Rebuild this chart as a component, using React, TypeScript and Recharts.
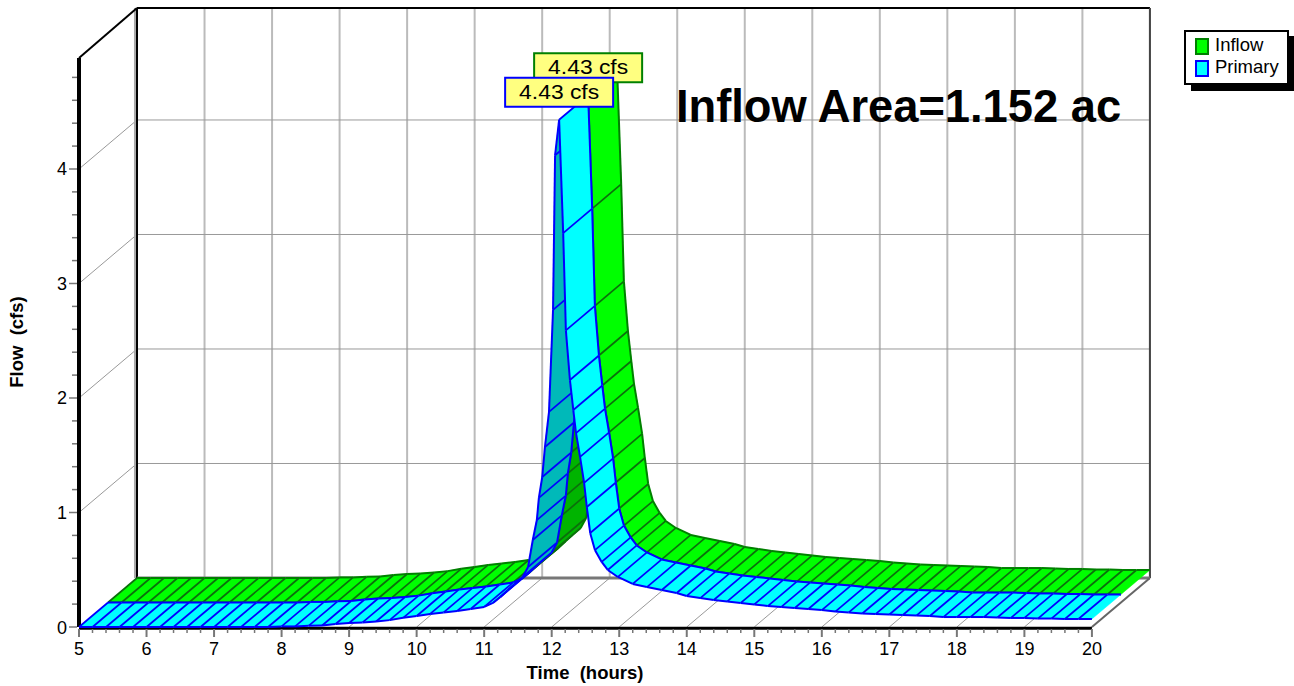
import { Line, LineChart, ReferenceDot, ReferenceLine, XAxis, YAxis } from "recharts";

const hours = [
  5, 5.2, 5.4, 5.6, 5.8, 6, 6.2, 6.4, 6.6, 6.8, 7, 7.2, 7.4, 7.6, 7.8, 8, 8.2, 8.4, 8.6, 8.8, 9, 9.2, 9.4, 9.6, 9.8,
  10, 10.2, 10.4, 10.6, 10.8, 11, 11.13, 11.24, 11.35, 11.45, 11.57, 11.65, 11.72, 11.78, 11.81, 11.86, 11.9, 11.96,
  12.02, 12.05, 12.11, 12.17, 12.21, 12.27, 12.32, 12.36, 12.42, 12.48, 12.52, 12.57, 12.64, 12.74, 12.83, 12.98,
  13.2, 13.41, 13.63, 13.85, 14, 14.2, 14.4, 14.6, 14.8, 15, 15.2, 15.4, 15.6, 15.8, 16, 16.2, 16.4, 16.6, 16.8, 17,
  17.2, 17.4, 17.6, 17.8, 18, 18.2, 18.4, 18.6, 18.8, 19, 19.2, 19.4, 19.6, 19.8, 20,
];

const inflowCfs = [
  0, 0, 0, 0, 0, 0, 0, 0, 0, 0, 0, 0, 0, 0, 0, 0.005, 0.005, 0.01, 0.013, 0.026, 0.035, 0.04, 0.048, 0.06, 0.08,
  0.096, 0.114, 0.127, 0.14, 0.157, 0.175, 0.21, 0.262, 0.323, 0.376, 0.437, 0.524, 0.76, 0.934, 1.127, 1.31, 1.572,
  1.878, 2.77, 4.12, 4.43, 3.44, 2.59, 2.157, 1.895, 1.694, 1.485, 1.258, 1.048, 0.821, 0.672, 0.568, 0.498, 0.437,
  0.376, 0.349, 0.323, 0.297, 0.271, 0.253, 0.236, 0.223, 0.21, 0.197, 0.183, 0.175, 0.166, 0.157, 0.148, 0.135,
  0.127, 0.118, 0.114, 0.109, 0.105, 0.1, 0.096, 0.087, 0.087, 0.087, 0.087, 0.083, 0.079, 0.079, 0.074, 0.074, 0.07,
  0.07, 0.07,
];

const primaryCfs = [...inflowCfs];

const xTicks = [
  5, 5.2, 5.4, 5.6, 5.8, 6, 6.2, 6.4, 6.6, 6.8, 7, 7.2, 7.4, 7.6, 7.8, 8, 8.2, 8.4, 8.6, 8.8, 9, 9.2, 9.4, 9.6, 9.8,
  10, 10.2, 10.4, 10.6, 10.8, 11, 11.2, 11.4, 11.6, 11.8, 12, 12.2, 12.4, 12.6, 12.8, 13, 13.2, 13.4, 13.6, 13.8, 14,
  14.2, 14.4, 14.6, 14.8, 15, 15.2, 15.4, 15.6, 15.8, 16, 16.2, 16.4, 16.6, 16.8, 17, 17.2, 17.4, 17.6, 17.8, 18, 18.2,
  18.4, 18.6, 18.8, 19, 19.2, 19.4, 19.6, 19.8, 20,
];
const yTicks = [
  0, 0.2, 0.4, 0.6, 0.8, 1, 1.2, 1.4, 1.6, 1.8, 2, 2.2, 2.4, 2.6, 2.8, 3, 3.2, 3.4, 3.6, 3.8, 4, 4.2, 4.4, 4.6, 4.8,
];
const hourLines = [6, 7, 8, 9, 10, 11, 12, 13, 14, 15, 16, 17, 18, 19, 20];
const flowLines = [1, 2, 3, 4];

const PEAK_HOUR = 12.11;
const PEAK_CFS = 4.43;
const AXIS_Y_TOP = 4.97;

// the picture's depth direction, in data units
const DEPTH_T = 0.859;
const DEPTH_Q = 0.428;

const BACK_T = 5 + DEPTH_T;
const END_T = 20 + DEPTH_T;
const TOP_Q = 5.406;

const FONT = "'Liberation Sans', Arial, sans-serif";

function ribbonRows(values: number[], zFront: number, zBack: number) {
  const front = hours.map((t, i) => ({ t: t + zFront * DEPTH_T, q: values[i] + zFront * DEPTH_Q }));
  const back = hours.map((t, i) => ({ t: t + zBack * DEPTH_T, q: values[i] + zBack * DEPTH_Q }));
  return [...front, ...back.reverse()];
}

function Ribbon({ points, fill, dark, edge, hatch }: any) {
  const n = points.length / 2;
  const parts = [];
  for (let i = 0; i < n - 1; i++) {
    const a = points[i];
    const b = points[i + 1];
    const c = points[2 * n - 2 - i];
    const d = points[2 * n - 1 - i];
    // underside of the ribbon: the edge climbs faster than the depth direction
    const cross = (b.x - a.x) * (d.y - a.y) - (b.y - a.y) * (d.x - a.x);
    const color = cross > 0 ? dark : fill;
    parts.push(
      <g key={i}>
        <path
          d={`M${a.x},${a.y}L${b.x},${b.y}L${c.x},${c.y}L${d.x},${d.y}Z`}
          fill={color}
          stroke={color}
          strokeWidth={0.5}
        />
        <line x1={a.x} y1={a.y} x2={d.x} y2={d.y} stroke={hatch} strokeWidth={1.7} />
        <line x1={a.x} y1={a.y} x2={b.x} y2={b.y} stroke={edge} strokeWidth={2} />
        <line x1={d.x} y1={d.y} x2={c.x} y2={c.y} stroke={edge} strokeWidth={2} />
      </g>,
    );
  }
  return <g>{parts}</g>;
}

function ribbonDot(colors: { fill: string; dark: string; edge: string; hatch: string }) {
  return (props: any) =>
    props.index === 0 ? <Ribbon key="ribbon" points={props.points} {...colors} /> : <g key={props.index} />;
}

function XTick({ x, payload }: any) {
  const major = Number.isInteger(payload.value);
  return (
    <g>
      <line x1={x} y1={629} x2={x} y2={major ? 637 : 633} stroke="#777" strokeWidth={major ? 2 : 1.5} />
      {major && (
        <text x={x} y={655} textAnchor="middle" fontSize={18} fontFamily={FONT} fill="#000">
          {payload.value}
        </text>
      )}
    </g>
  );
}

function YTick({ y, payload }: any) {
  const major = Number.isInteger(payload.value);
  return (
    <g>
      <line x1={major ? 69 : 72} y1={y} x2={77} y2={y} stroke="#777" strokeWidth={1.5} />
      {major && (
        <text x={67} y={y + 6.5} textAnchor="end" fontSize={18} fontFamily={FONT} fill="#000">
          {payload.value}
        </text>
      )}
    </g>
  );
}

function Callout({ cx, cy, color }: any) {
  return (
    <g>
      <rect x={cx - 54} y={cy - 42} width={108} height={29} fill="#ffff80" stroke={color} strokeWidth={2} />
      <text
        x={cx}
        y={cy - 21}
        textAnchor="middle"
        fontSize={20}
        fontFamily={FONT}
        fill="#000"
        textLength={80}
        lengthAdjust="spacingAndGlyphs"
      >
        4.43 cfs
      </text>
    </g>
  );
}

function AreaNote({ cx, cy }: any) {
  return (
    <text x={cx} y={cy} fontSize={45.3} fontWeight="bold" fontFamily={FONT} fill="#000">
      Inflow Area=1.152 ac
    </text>
  );
}

function seg(key: string, from: number[], to: number[], stroke: string, strokeWidth: number) {
  return (
    <ReferenceLine
      key={key}
      segment={[
        { x: from[0], y: from[1] },
        { x: to[0], y: to[1] },
      ]}
      stroke={stroke}
      strokeWidth={strokeWidth}
      ifOverflow="visible"
    />
  );
}

function LegendBox() {
  const rows = [
    { name: "Inflow", fill: "#00ff00", edge: "#008000", top: 7 },
    { name: "Primary", fill: "#00ffff", edge: "#0000ff", top: 29 },
  ];
  return (
    <div
      style={{
        position: "absolute",
        left: 1184,
        top: 30,
        width: 101,
        height: 51,
        background: "#fff",
        border: "2px solid #000",
        boxShadow: "7px 6px 0 #000",
        fontFamily: FONT,
        fontSize: 18.5,
      }}
    >
      {rows.map((r) => (
        <div key={r.name} style={{ position: "absolute", left: 0, top: r.top, height: 16 }}>
          <span
            style={{
              position: "absolute",
              left: 9,
              top: -1,
              width: 10,
              height: 13,
              background: r.fill,
              border: `2px solid ${r.edge}`,
            }}
          />
          <span style={{ position: "absolute", left: 29, top: -4, lineHeight: "20px" }}>{r.name}</span>
        </div>
      ))}
    </div>
  );
}

export default function App() {
  return (
    <div style={{ position: "absolute", left: 0, top: 0, width: 1294, height: 686, background: "#fff" }}>
      <LineChart width={1294} height={686} margin={{ top: 8, right: 144, bottom: 0, left: 0 }}>
        <XAxis
          dataKey="t"
          type="number"
          domain={[5, 20.86]}
          ticks={xTicks}
          interval={0}
          height={59}
          axisLine={false}
          tickLine={false}
          tick={<XTick />}
        />
        <YAxis
          dataKey="q"
          type="number"
          domain={[0, TOP_Q]}
          ticks={yTicks}
          interval={0}
          width={79}
          axisLine={false}
          tickLine={false}
          tick={<YTick />}
        />

        {hourLines.map((h) => seg(`v${h}`, [h + DEPTH_T, DEPTH_Q], [h + DEPTH_T, TOP_Q], "#bbb", 2))}
        {flowLines.map((f) => seg(`h${f}`, [BACK_T, f + DEPTH_Q], [END_T, f + DEPTH_Q], "#999", 1))}
        {flowLines.map((f) => seg(`w${f}`, [5, f], [BACK_T, f + DEPTH_Q], "#999", 1))}
        {hourLines.map((h) => seg(`f${h}`, [h, 0], [h + DEPTH_T, DEPTH_Q], "#999", 1))}
        {seg("wallGray", [BACK_T - 0.03, DEPTH_Q], [BACK_T - 0.03, TOP_Q], "#aaa", 2)}
        {seg("wallBlack", [BACK_T, DEPTH_Q], [BACK_T, TOP_Q], "#000", 2)}
        {seg("top", [BACK_T, TOP_Q], [END_T, TOP_Q], "#000", 2)}
        {seg("right", [END_T, DEPTH_Q], [END_T, TOP_Q], "#444", 2)}
        {seg("floorBack", [BACK_T, DEPTH_Q], [END_T, DEPTH_Q], "#777", 3)}
        {seg("floorRight", [20, 0], [END_T, DEPTH_Q], "#666", 2)}
        {seg("floorLeft", [5, AXIS_Y_TOP], [BACK_T, TOP_Q], "#000", 2)}
        {seg("yAxis", [5, 0], [5, AXIS_Y_TOP], "#000", 4)}
        {seg("xAxis", [5, -0.01], [20, -0.01], "#000", 3)}

        <Line
          data={ribbonRows(inflowCfs, 0.5, 1)}
          dataKey="q"
          name="Inflow"
          stroke="none"
          isAnimationActive={false}
          activeDot={false}
          dot={ribbonDot({ fill: "#00ff00", dark: "#00b400", edge: "#008000", hatch: "#0c6f0c" })}
        />
        <Line
          data={ribbonRows(primaryCfs, 0, 0.5)}
          dataKey="q"
          name="Primary"
          stroke="none"
          isAnimationActive={false}
          activeDot={false}
          dot={ribbonDot({ fill: "#00ffff", dark: "#00b9b9", edge: "#0000ff", hatch: "#0000ff" })}
        />

        <ReferenceDot
          x={PEAK_HOUR + 0.5 * DEPTH_T}
          y={PEAK_CFS + 0.5 * DEPTH_Q}
          ifOverflow="visible"
          shape={(p: any) => <Callout {...p} color="#008000" />}
        />
        <ReferenceDot
          x={PEAK_HOUR}
          y={PEAK_CFS}
          ifOverflow="visible"
          shape={(p: any) => <Callout {...p} color="#0000ff" />}
        />
        <ReferenceDot x={13.84} y={4.41} ifOverflow="visible" shape={(p: any) => <AreaNote {...p} />} />
      </LineChart>

      <div
        style={{
          position: "absolute",
          left: 505,
          top: 662,
          width: 160,
          textAlign: "center",
          fontFamily: FONT,
          fontWeight: "bold",
          fontSize: 18.5,
          whiteSpace: "pre",
        }}
      >
        {"Time  (hours)"}
      </div>
      <div
        style={{
          position: "absolute",
          left: -43,
          top: 331,
          width: 120,
          textAlign: "center",
          fontFamily: FONT,
          fontWeight: "bold",
          fontSize: 18.5,
          whiteSpace: "pre",
          transform: "rotate(-90deg)",
        }}
      >
        {"Flow  (cfs)"}
      </div>
      <LegendBox />
    </div>
  );
}
